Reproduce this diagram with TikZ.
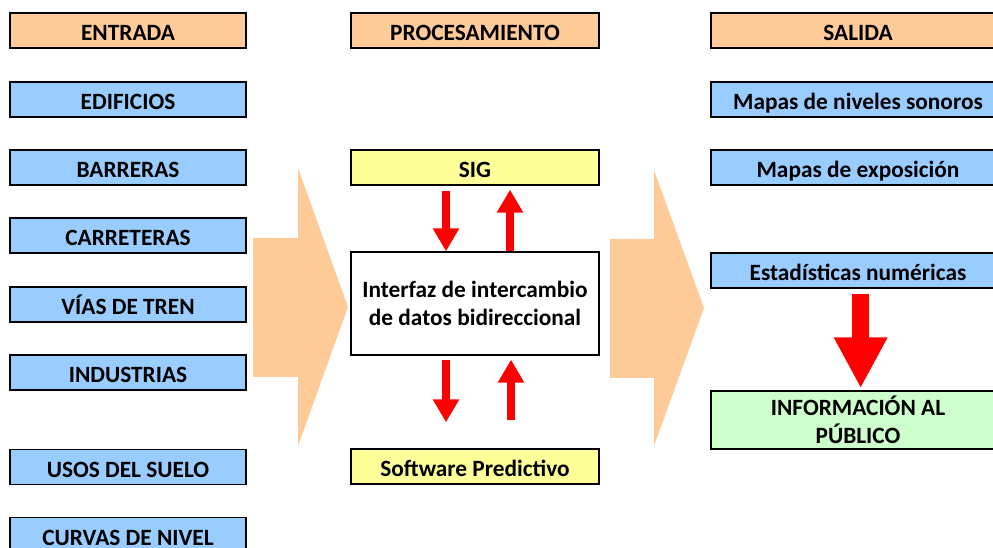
\documentclass[tikz,border=0pt]{standalone}
\usepackage{fontspec}
\setmainfont{Carlito}
\usetikzlibrary{arrows.meta}
\definecolor{naranja}{HTML}{FFCC99}
\definecolor{azul}{HTML}{99CCFF}
\definecolor{amarillo}{HTML}{FFFF99}
\definecolor{verde}{HTML}{CCFFCC}
\definecolor{rojo}{HTML}{FF0000}
\tikzset{
	caja/.style={draw=black,line width=1pt,inner sep=0pt,align=center,
		font=\fontsize{17.5}{21}\selectfont\bfseries,minimum height=26.25pt},
	una/.style={caja,text height=15.6pt,text depth=0pt},
	izq/.style={una,minimum width=177pt},
	cen/.style={una,minimum width=186pt},
	der/.style={una,minimum width=220.5pt},
	flechita/.style={rojo,line width=6pt,-{Triangle[width=18.75pt,length=17.25pt]}},
	flechagrande/.style={rojo,line width=12.75pt,-{Triangle[width=37.5pt,length=38.25pt]}}
}

\begin{document}
\begin{tikzpicture}[x=0.75pt,y=-0.75pt]
					% Page frame (the last box is cut by it)
					\clip (0,0) rectangle (993,548);
					
					% Big orange arrows
					\fill[naranja] (253,238) -- (298,238) -- (298,168) -- (348,307) -- (298,446) -- (298,377) -- (253,377) -- cycle;
					\fill[naranja] (610,239) -- (654,239) -- (654,170) -- (704,308) -- (654,446) -- (654,378) -- (610,378) -- cycle;
					
					% Headers
					\node[izq,fill=naranja] (entrada) at (128,30.5) {ENTRADA};
					\node[cen,fill=naranja] (proc) at (475,30.5) {PROCESAMIENTO};
					\node[der,fill=naranja] (salida) at (858,30.5) {SALIDA};
					
					% Input column
					\foreach \nom/\y/\txt in {edificios/99.5/EDIFICIOS,barreras/167.5/BARRERAS,
						carreteras/235.5/CARRETERAS,vias/304.5/VÍAS DE TREN,industrias/372.5/INDUSTRIAS,
						usos/467/USOS DEL SUELO,curvas/535/CURVAS DE NIVEL}
						\node[izq,fill=azul] (\nom) at (128,\y) {\txt};
					
					% Processing column
					\node[cen,fill=amarillo] (sig) at (475,167.5) {SIG};
					\node[caja,minimum width=186pt,fill=white,minimum height=77.25pt] (interfaz) at (475,303.5) {Interfaz de intercambio\\de datos bidireccional};
					\node[cen,fill=amarillo] (software) at (475,466.5) {Software Predictivo};
					
					% Output column
					\node[der,fill=azul] (niveles) at (858,99.5) {Mapas de niveles sonoros};
					\node[der,fill=azul] (exposicion) at (858,167.5) {Mapas de exposición};
					\node[der,fill=azul] (estadisticas) at (858,270.5) {Estadísticas numéricas};
					\node[caja,minimum width=220.5pt,fill=verde,minimum height=43.5pt] (info) at (858,420) {INFORMACIÓN AL\\PÚBLICO};
					
					% Red arrows
					\draw[flechita,shorten <=3.75pt] ([xshift=-21.75pt]sig.south) -- ([xshift=-21.75pt]interfaz.north);
					\draw[flechita,shorten >=3pt] ([xshift=26.25pt]interfaz.north) -- ([xshift=26.25pt]sig.south);
					\draw[flechita,shorten <=3pt,shorten >=19.5pt] ([xshift=-21.75pt]interfaz.south) -- ([xshift=-21.75pt]software.north);
					\draw[flechita,shorten <=21pt,shorten >=3pt] ([xshift=27pt]software.north) -- ([xshift=27pt]interfaz.south);
					\draw[flechagrande,shorten <=3.75pt,shorten >=1.5pt] ([xshift=2pt]estadisticas.south) -- ([xshift=2pt]info.north);
				\end{tikzpicture}
\end{document}
